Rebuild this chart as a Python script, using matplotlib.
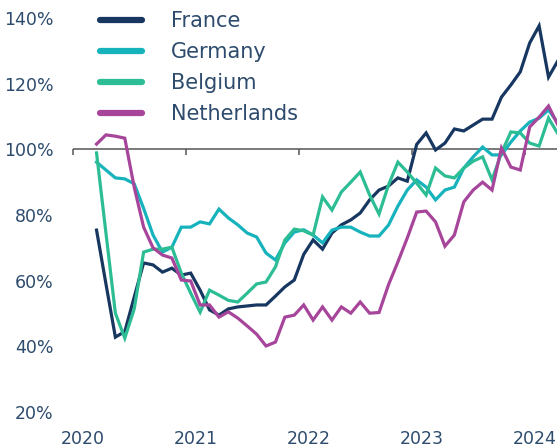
import numpy as np
import pandas as pd
import matplotlib
matplotlib.use('Agg')
from matplotlib import pyplot as plt

# Monthly series, March 2020 - April 2024 (index, %)
months = pd.date_range("2020-03-01", periods=50, freq="MS")
france = [75.4, 59, 42.8, 44.5, 55, 65.4, 64.8, 62.6, 63.8, 61.7, 62.3, 57.1, 51.1, 49.5, 51.4, 52, 52.3,
          52.6, 52.6, 55.3, 58.1, 60.2, 68, 72.4, 69.6, 74.5, 77, 78.5, 80.6, 84.6, 87.6, 88.8, 91.3, 90.3,
          101.5, 105, 99.8, 101.9, 106.2, 105.6, 107.4, 109.2, 109.2, 115.9, 119.6, 123.6, 132.4, 137.6, 122, 127]
germany = [96.1, 93.7, 91.3, 91, 89.5, 82, 73.9, 68.7, 70.2, 76.3, 76.3, 77.9, 77.3, 81.8, 79.1, 77, 74.5,
           73.3, 68.4, 66.3, 71.5, 74.8, 75.5, 73.9, 71.5, 75.4, 76.3, 76.3, 74.8, 73.6, 73.6, 76.9, 82.7, 87.6,
           90.7, 88.5, 84.6, 87.6, 88.5, 94.3, 97.7, 100.7, 98.3, 98.3, 102.2, 105.6, 108.3, 109.5, 112, 108]
belgium = [98.9, 74.5, 50.1, 42.5, 51.4, 68.7, 69.6, 69.6, 70.2, 62.3, 56.2, 50.4, 57.1, 55.6, 54, 53.5, 56.2,
           59, 59.6, 64.2, 72.4, 75.7, 75.2, 73.9, 85.5, 81.5, 87, 90, 93.1, 86.1, 80.3, 89.1, 96.1, 93.1,
           89.7, 86.1, 94.3, 91.9, 91.3, 94.3, 96.4, 97.7, 90.7, 98.9, 105.3, 105, 101.9, 101, 109.5, 104.7]
netherlands = [101.6, 104.4, 104, 103.4, 88.5, 76.3, 70, 67.8, 66.9, 60.2, 59.9, 52.6, 52.6, 48.9, 50.5, 48.6,
               46.2, 43.7, 40.1, 41.3, 48.9, 49.5, 52.6, 48, 52, 48, 52, 50.1, 53.5, 50.1, 50.3, 58.7, 65.7, 73,
               80.9, 81.2, 77.9, 70.5, 73.9, 84, 87.6, 90, 87.6, 100.4, 94.6, 93.7, 106.8, 109.8, 113.2, 107.4]

series = {
    "France": (france, "#173761"),
    "Germany": (germany, "#17b3bd"),
    "Belgium": (belgium, "#2dbd94"),
    "Netherlands": (netherlands, "#a7459b"),
}
years = [2020, 2021, 2022, 2023, 2024]
yticks = [20, 40, 60, 80, 100, 120, 140]

text_color = "#2d4b6c"
plt.rcParams['font.family'] = ['DejaVu Sans']

# mid-month position as decimal year
x = months.year + (months.month - 0.5) / 12

fig = plt.figure(figsize=(5.57, 4.47), dpi=100)
ax = fig.add_axes([73 / 557, 1 - 412 / 447, 1 - 73 / 557, (412 - 18) / 447])

for name, (vals, col) in series.items():
    ax.plot(x, vals, color=col, lw=2.3, label=name, solid_joinstyle='miter', zorder=3)

ax.axhline(100, color="#555555", lw=1.1, zorder=2)

ax.set_xlim(2020, 2024 + 3.4 / 12)
ax.set_ylim(20, 140)
ax.set_yticks(yticks)
ax.set_yticklabels([f"{v}%" for v in yticks])
ax.set_xticks([y + 0.088 for y in years])
ax.set_xticklabels([str(y) for y in years])
ax.tick_params(axis='both', length=0, labelsize=12.5, colors=text_color)
ax.tick_params(axis='y', pad=14)
ax.tick_params(axis='x', pad=13)
for s in ax.spines.values():
    s.set_visible(False)

# small year ticks hanging below the 100% line
sec = ax.secondary_xaxis(100, transform=ax.transData)
sec.set_xticks(years)
sec.set_xticklabels([])
sec.tick_params(length=4, width=1.1, color="#555555", direction='in')
sec.spines['bottom'].set_visible(False)
sec.spines['top'].set_visible(False)

leg = ax.legend(loc='upper left', bbox_to_anchor=(92 / 557, 1 - 3 / 447), bbox_transform=fig.transFigure,
                frameon=False, fontsize=15, handlelength=2.0, handletextpad=1.4, labelspacing=0.52,
                borderaxespad=0)
for h in leg.get_lines():
    h.set_linewidth(4.5)
    h.set_solid_capstyle('round')
for t in leg.get_texts():
    t.set_color(text_color)

fig.savefig("out.png", dpi=100)
